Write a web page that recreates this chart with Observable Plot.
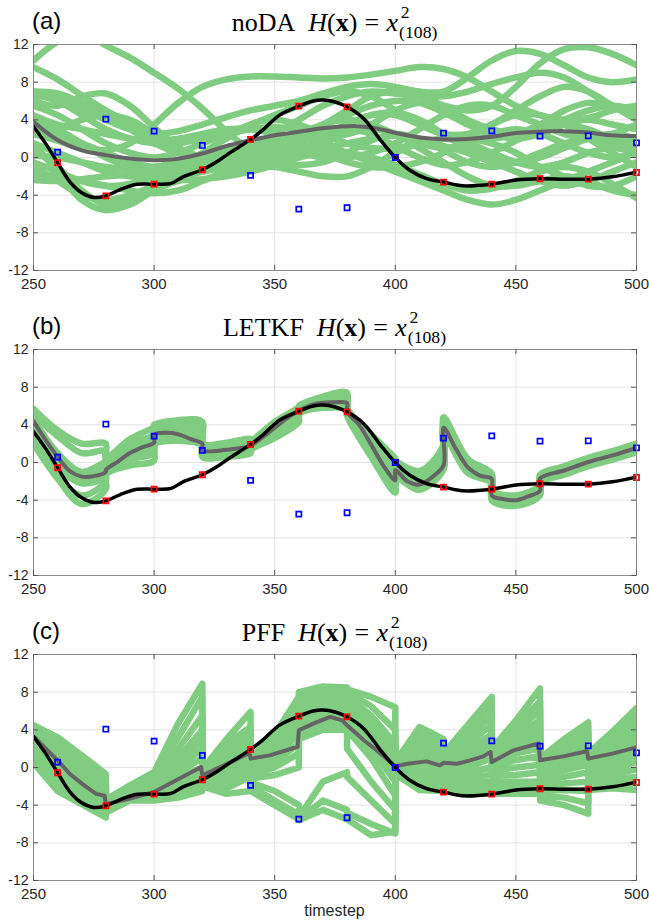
<!DOCTYPE html>
<html><head><meta charset="utf-8">
<script src="https://cdn.jsdelivr.net/npm/d3@7"></script>
<script src="https://cdn.jsdelivr.net/npm/@observablehq/plot@0.6"></script>
<style>
body{margin:0;background:#fff;}
#wrap{position:relative;width:649px;height:923px;overflow:hidden;background:#fff;}
.panel{position:absolute;left:0;}
.lab{position:absolute;font-family:"Liberation Sans",Arial,sans-serif;font-size:24px;line-height:1;color:#000;}
.ttl{position:absolute;font-family:"Liberation Serif","Times New Roman",serif;font-size:26px;line-height:1;color:#000;white-space:nowrap;transform:translateX(-50%);}
.eq{margin:0 0.28em;}
.ss{position:relative;display:inline-block;margin-left:0.04em;}
.sup{position:absolute;left:0.1em;top:-0.34em;font-size:0.68em;}
.sub{position:relative;top:0.42em;font-size:0.68em;}
.xl{position:absolute;font-family:"Liberation Sans",Arial,sans-serif;font-size:16px;line-height:1;color:#262626;transform:translateX(-50%);}
</style></head>
<body><div id="wrap"></div>
<script>
// ---------------- data ----------------
const xTicks = [250, 300, 350, 400, 450, 500];
const yTicks = [-12, -8, -4, 0, 4, 8, 12];
const obsTimes = [260, 280, 300, 320, 340, 360, 380, 400, 420, 440, 460, 480, 500];
const truthAtObs = [-0.56, -4.07, -2.83, -1.3, 1.92, 5.45, 5.38, 0.0, -2.61, -2.83, -2.26, -2.3, -1.59];
const observations = [0.57, 4.07, 2.8, 1.28, -1.9, -5.48, -5.34, 0.0, 2.59, 2.83, 2.27, 2.3, 1.56];

const truthT = [250,255,260,265,270,275,280,286,293,300,307,312,320,326,332,340,345,352,360,366,370,375,380,387,394,400,406,413,420,428,440,450,460,470,480,490,500];
const truthV = [3.3,1.5,-0.55,-2.55,-3.75,-4.25,-4.07,-3.4,-2.85,-2.83,-2.75,-2.05,-1.3,-0.45,0.6,1.92,2.9,4.5,5.45,6.0,6.1,5.9,5.38,4.1,1.8,0.0,-1.35,-2.25,-2.61,-3.0,-2.83,-2.4,-2.26,-2.3,-2.3,-2.05,-1.55];

// ensemble means
const meanAT = [250,260,270,280,290,300,308,320,331,340,350,360,370,384,392,400,410,424,440,450,460,470,480,490,500];
const meanAV = [3.8,1.85,0.75,0.25,-0.1,-0.28,-0.2,0.43,1.3,1.84,2.37,2.73,3.1,3.33,3.1,2.62,2.13,1.92,2.2,2.6,2.73,2.8,2.65,2.35,2.27];
const meanBT = [250,255,260,265,270,275,280,280,285,290,295,300,300,305,310,315,320,320,330,340,345,350,355,360,365,370,375,380,380,385,390,395,400,400,405,410,415,420,420,425,430,435,440,440,445,450,455,460,460,470,480,490,500];
const meanBV = [4.4,2.4,0.6,-0.9,-1.5,-1.45,-1.0,-0.8,0.1,1.0,1.6,2.1,2.95,3.15,3.0,2.5,2.0,1.3,1.35,1.8,2.7,3.7,4.7,5.5,6.1,6.35,6.4,6.3,5.4,4.0,1.9,-0.3,-1.9,-0.8,-2.0,-2.35,-1.6,-0.3,3.7,1.5,-0.5,-1.4,-1.75,-3.5,-3.9,-4.0,-3.6,-3.0,-1.7,-0.85,0.05,0.75,1.55];
const meanCT = [250,260,265,271,276,279.5,280,290,300,309,319.5,320,329,339.5,340,348,359.5,360,366,373,378,380,387,394,400,405,413,418.5,420,425.5,431,436.5,439.5,440,449,459.5,460,469.6,479.5,480,490,499.5,500];
const meanCV = [3.3,0.76,-0.66,-1.9,-2.8,-3.0,-3.9,-3.3,-2.6,-1.37,0.05,-0.84,0.23,1.54,0.94,1.29,2.2,3.95,4.66,5.37,5.0,4.48,2.9,1.47,0.12,0.4,0.65,0.23,0.5,0.4,0.76,1.18,1.64,0.58,1.82,2.55,0.76,1.18,1.72,0.94,1.47,2.11,1.5];

// (a) noDA ensemble members, values at gridA
const gridA = [250,260,270,280,290,300,310,320,330,340,350,360,370,380,390,400,410,420,430,440,450,460,470,480,490,500];
const ensA = [
 [10.3,12.3,13.3,11.9,10.6,9.0,7.3,5.2,2.8,0.8,-0.3,-0.8,-0.5,0.5,1.8,2.5,2.0,0.8,-0.5,-1.0,-0.5,0.5,1.5,2.0,1.5,0.8],
 [9.6,8.3,6.6,5.0,3.6,2.3,1.0,0.0,-0.5,-0.3,0.5,1.5,2.5,3.0,2.5,1.2,0.0,-0.8,-0.5,0.5,1.8,3.0,3.5,3.0,2.0,1.5],
 [2.5,1.8,1.0,0.8,1.5,3.5,5.8,7.5,8.3,8.6,8.6,8.5,8.4,8.5,8.8,9.2,9.6,9.4,8.5,7.0,5.5,4.5,4.0,4.2,5.0,5.5],
 [6.0,5.5,6.5,6.8,5.5,3.2,1.0,-0.5,-1.0,-0.5,0.5,2.0,3.5,4.5,5.5,6.0,5.8,4.8,3.5,2.5,2.0,2.5,3.5,4.0,3.5,3.0],
 [7.0,6.5,5.2,4.0,3.0,2.5,2.8,3.5,4.3,5.0,5.5,6.0,6.8,7.5,7.8,7.5,7.0,7.0,8.5,10.3,11.3,11.0,9.8,8.5,8.0,8.3],
 [6.6,6.0,4.5,3.0,2.0,1.5,1.5,2.0,2.5,3.0,3.2,3.0,2.5,2.5,3.5,5.0,5.8,5.5,5.0,5.5,7.5,10.0,11.5,11.7,11.0,9.8],
 [5.5,4.5,3.0,1.5,0.5,0.0,0.5,1.5,2.5,3.5,4.5,5.5,6.5,7.0,6.5,5.0,3.5,2.5,2.5,3.5,5.0,6.5,7.5,7.0,5.5,4.0],
 [1.5,-1.5,-4.5,-5.6,-5.0,-3.5,-2.5,-2.3,-2.0,-1.5,-0.8,0.0,0.5,0.5,0.0,-0.8,-1.8,-2.8,-3.5,-3.3,-2.5,-1.5,-1.0,-1.5,-2.8,-4.3],
 [0.8,-1.0,-3.5,-5.0,-4.5,-3.0,-1.5,-0.5,0.2,0.5,1.0,1.5,2.5,3.5,4.5,4.8,4.0,2.5,1.0,0.0,-0.5,0.0,1.0,2.0,2.5,2.0],
 [-2.4,-2.5,-2.3,-2.0,-1.8,-1.5,-1.2,-1.0,-0.5,0.0,0.5,0.8,1.0,1.5,2.0,2.3,2.0,1.2,0.5,-0.5,-1.5,-2.5,-3.0,-2.5,-1.5,-0.5],
 [-1.7,-2.0,-2.5,-3.0,-3.5,-3.8,-3.5,-2.5,-1.5,-1.0,-1.0,-1.5,-2.0,-2.0,-1.0,0.5,1.5,2.0,1.5,0.5,-0.5,-1.0,-0.5,0.5,1.0,0.5],
 [3.5,2.5,1.5,0.5,-0.5,-1.0,-0.8,0.0,0.8,1.5,2.0,2.0,1.5,0.5,-0.5,-1.5,-2.5,-3.5,-4.5,-5.0,-4.5,-3.5,-2.5,-1.5,-0.5,0.5],
 [4.5,3.5,3.0,2.5,2.0,1.8,2.0,2.5,3.0,3.0,2.5,1.5,0.5,-0.5,-1.0,-1.0,-0.5,0.5,2.0,3.5,4.5,4.5,3.5,2.0,0.5,-1.0],
 [0.2,0.0,-0.5,-1.0,-1.2,-1.0,-0.5,0.0,0.5,1.0,1.0,0.5,0.0,0.0,0.5,1.5,3.0,4.5,5.5,5.5,4.5,3.5,2.5,2.0,2.5,3.5],
 [-1.0,-2.5,-4.0,-4.5,-4.0,-3.0,-2.0,-1.5,-1.0,-0.5,0.0,0.5,1.5,2.5,3.0,2.5,1.0,-0.5,-2.0,-3.0,-3.0,-2.5,-2.0,-2.5,-3.5,-4.0],
 [1.5,0.5,-0.5,-1.5,-2.0,-2.2,-2.0,-1.5,-0.5,0.5,1.5,2.5,3.5,4.0,3.5,2.5,1.5,1.0,1.5,2.5,3.0,2.5,1.5,0.5,0.0,0.5],
 [2.5,3.0,4.0,4.5,4.0,2.5,1.0,0.0,-0.5,-0.8,-0.5,0.5,2.0,3.5,4.5,4.5,3.5,2.5,2.0,2.0,2.5,3.5,5.0,5.8,5.5,5.0],
 [-0.5,-1.5,-2.5,-3.0,-2.8,-2.0,-1.0,0.0,1.0,1.5,2.0,2.5,3.5,5.0,6.5,7.0,6.5,5.5,4.0,3.0,2.5,3.0,4.0,5.0,5.5,5.0],
 [4.0,3.0,1.5,0.0,-1.0,-1.5,-1.0,0.5,2.0,3.5,4.0,3.5,2.5,1.5,1.0,1.0,1.5,2.0,2.0,1.5,0.5,-1.0,-2.0,-3.0,-3.0,-2.0],
 [7.0,6.8,5.8,4.5,3.0,1.5,0.5,0.0,0.2,1.0,2.5,4.0,5.5,6.5,7.0,6.8,6.5,6.5,7.0,7.8,8.5,9.0,8.5,7.0,5.5,4.5]
];

// (b) LETKF ensemble members (repeated times = before/after analysis)
const gridB = [250,260,270,280,280,290,300,300,310,320,320,330,340,340,350,360,360,370,380,380,390,400,400,410,420,420,430,440,440,450,460,460,470,480,490,500];
const ensB = [
 [5.7,3.4,2.0,2.0,0.5,2.5,3.8,4.0,4.5,4.3,2.0,2.1,2.5,2.3,4.3,5.9,6.0,7.0,7.4,5.8,3.0,0.4,0.3,-0.9,1.9,4.8,0.4,-1.2,-2.9,-3.5,-2.4,-1.3,-0.4,0.5,1.2,2.0],
 [5.0,2.8,1.0,1.2,0.0,1.9,3.0,3.6,4.0,3.6,1.7,1.8,2.2,2.1,4.0,5.6,5.8,6.8,7.1,5.6,2.6,-0.5,-0.2,-1.5,1.2,4.4,0.1,-1.4,-3.1,-3.7,-2.6,-1.5,-0.6,0.3,1.0,1.8],
 [4.6,1.0,-1.0,0.0,-0.3,1.5,2.5,3.3,3.5,2.9,1.5,1.6,2.0,1.9,3.7,5.4,5.6,6.6,6.8,5.5,2.2,-1.2,-0.5,-1.9,0.6,4.0,-0.2,-1.6,-3.3,-3.9,-2.8,-1.6,-0.7,0.2,0.9,1.7],
 [4.4,0.5,-1.5,-0.5,-0.6,1.2,2.2,3.0,3.1,2.3,1.3,1.4,1.8,1.85,3.5,5.3,5.55,6.4,6.5,5.4,2.0,-1.8,-0.8,-2.2,0.1,3.8,-0.4,-1.7,-3.4,-4.0,-2.9,-1.7,-0.8,0.1,0.8,1.6],
 [4.0,0.0,-2.0,-1.0,-0.8,1.0,2.0,2.9,2.9,2.0,1.2,1.3,1.7,1.8,3.4,5.2,5.5,6.3,6.2,5.35,1.8,-2.0,-0.9,-2.35,-0.2,3.6,-0.5,-1.8,-3.5,-4.1,-3.0,-1.8,-0.9,0.0,0.7,1.5],
 [3.5,-0.5,-2.2,-1.5,-1.0,0.7,1.6,2.6,2.6,1.9,1.0,1.1,1.5,1.7,3.2,5.0,5.4,6.2,6.0,5.3,1.4,-2.4,-1.1,-2.5,-0.4,3.4,-0.7,-1.9,-3.6,-4.2,-3.1,-1.9,-1.0,-0.1,0.6,1.4],
 [2.5,-1.5,-3.5,-2.0,-1.1,0.3,1.0,2.3,2.4,1.8,0.8,0.9,1.3,1.5,2.9,4.7,5.3,6.0,5.8,5.2,1.0,-2.8,-1.3,-2.7,-0.6,3.2,-0.9,-2.0,-3.8,-4.4,-3.3,-2.0,-1.1,-0.2,0.5,1.3],
 [2.0,-1.7,-4.4,-2.8,-1.3,-0.3,0.2,1.9,2.3,1.8,0.6,0.6,1.0,1.3,2.6,4.3,5.1,5.8,5.6,5.0,0.6,-3.2,-1.6,-2.9,-0.7,3.0,-1.1,-2.2,-4.0,-4.6,-3.5,-2.2,-1.3,-0.4,0.3,1.1]
];

// (c) PFF ensemble: one column of particle values per time in gridC
const gridC = [250,260,270,280,280,290,300,310,320,320,330,340,340,350,360,360,370,380,380,390,400,400,410,420,420,430,440,440,450,460,460,470,480,480,490,500];
const ensCcols = [
 [4.5,4.0,3.6,3.3,3.0,2.7,2.4,2.1,1.8,1.5,1.2,1.0,0.8,0.5],
 [3.2,2.8,2.4,2.0,1.6,1.2,0.8,0.4,0.0,-0.4,-0.8,-1.2,-1.7,-2.5],
 [1.3,0.8,0.3,-0.2,-0.6,-1.0,-1.4,-1.8,-2.2,-2.6,-3.0,-3.3,-3.6,-3.9],
 [-0.7,-1.2,-1.6,-2.0,-2.4,-2.8,-3.1,-3.4,-3.7,-4.0,-4.3,-4.6,-5.0,-5.3],
 [-3.4,-3.5,-3.6,-3.7,-3.8,-3.9,-4.0,-4.1,-4.2,-4.3,-4.4,-4.5,-4.7,-4.8],
 [-1.9,-2.1,-2.3,-2.5,-2.6,-2.7,-2.8,-2.9,-3.0,-3.1,-3.2,-3.3,-3.4,-3.5],
 [-0.5,-0.8,-1.1,-1.4,-1.7,-2.0,-2.2,-2.4,-2.6,-2.8,-3.0,-3.2,-3.4,-3.5],
 [4.7,3.2,2.0,1.0,0.5,0.0,-0.5,-1.0,-1.5,-2.0,-2.4,-2.7,-3.0,-3.2],
 [8.9,7.5,5.5,4.0,3.0,2.0,1.0,0.0,-0.5,-1.0,-1.5,-2.0,-2.3,-2.5],
 [-0.2,-0.4,-0.5,-0.6,-0.7,-0.8,-0.9,-1.0,-1.1,-1.2,-1.4,-1.6,-1.8,-2.0],
 [3.0,2.5,2.0,1.5,1.0,0.7,0.4,0.1,-0.2,-0.5,-1.0,-1.5,-2.2,-2.8],
 [5.9,4.3,3.5,2.8,2.3,2.0,1.6,1.3,1.0,0.7,0.3,-0.3,-1.0,-2.5],
 [1.0,0.9,0.8,0.6,0.5,0.3,0.1,-0.2,-0.5,-0.8,-1.2,-1.6,-2.0,-2.5],
 [3.5,3.2,2.9,2.6,2.3,2.0,1.6,1.2,0.6,0.0,-0.8,-2.5,-3.5,-4.0],
 [7.5,7.0,6.5,6.0,5.4,4.8,4.2,3.5,2.5,1.5,0.0,-4.0,-5.0,-5.5],
 [8.0,7.5,7.0,6.5,6.0,5.5,5.0,4.5,4.0,3.5,3.0,-5.3,-5.5,-5.6],
 [8.6,8.3,8.0,7.6,7.2,6.8,6.3,5.8,5.2,4.5,4.0,-1.5,-3.5,-4.5],
 [8.5,8.2,8.0,7.7,7.3,6.8,6.2,5.5,5.0,4.5,4.0,-0.5,-4.5,-5.5],
 [8.3,8.0,7.6,7.2,6.8,6.3,5.8,5.3,4.6,4.0,2.0,-1.0,-4.8,-5.5],
 [7.5,6.5,5.5,5.0,4.5,4.0,3.5,3.0,2.0,1.0,-1.5,-3.5,-6.0,-7.2],
 [6.4,4.0,2.5,1.5,0.8,0.3,0.0,-0.5,-1.5,-3.0,-4.5,-6.0,-7.0,-6.8],
 [0.6,0.5,0.4,0.3,0.2,0.1,0.0,-0.1,-0.2,-0.3,-0.4,-0.5,-0.6,-0.7],
 [4.3,3.5,3.0,2.5,2.0,1.5,1.0,0.5,0.0,-0.5,-1.0,-1.5,-2.0,-2.4],
 [3.0,2.6,2.2,2.0,1.6,1.2,0.8,0.4,0.0,-0.4,-1.0,-1.5,-2.0,-2.5],
 [1.5,1.2,1.0,0.8,0.6,0.5,0.4,0.2,0.0,-0.3,-0.7,-1.2,-1.8,-2.4],
 [4.5,3.8,3.2,2.6,2.0,1.5,1.0,0.5,0.0,-0.5,-1.0,-1.5,-2.0,-2.6],
 [7.5,6.5,5.5,4.5,3.5,3.0,2.5,2.0,1.0,0.0,-0.8,-1.5,-2.2,-2.8],
 [2.0,1.7,1.4,1.2,1.0,0.8,0.6,0.3,0.0,-0.4,-0.9,-1.5,-2.2,-2.8],
 [5.0,4.5,4.0,3.5,3.0,2.5,2.0,1.5,0.8,0.0,-0.8,-1.5,-2.2,-2.8],
 [8.4,7.0,6.0,5.0,4.2,3.5,2.8,2.0,1.2,0.3,-0.5,-1.5,-2.2,-2.8],
 [1.0,0.8,0.6,0.4,0.2,0.0,-0.2,-0.5,-1.0,-1.5,-2.0,-2.5,-3.0,-3.5],
 [3.0,2.6,2.2,1.8,1.4,1.0,0.6,0.2,-0.3,-1.0,-1.7,-2.4,-3.2,-4.0],
 [4.8,4.2,3.6,3.0,2.5,2.0,1.5,1.0,0.3,-0.5,-1.5,-2.5,-3.8,-4.9],
 [1.5,1.3,1.1,0.9,0.7,0.5,0.3,0.0,-0.4,-0.8,-1.2,-1.6,-2.0,-2.4],
 [3.8,3.3,2.8,2.4,2.0,1.6,1.2,0.8,0.3,-0.2,-0.7,-1.2,-1.7,-2.2],
 [6.3,5.5,4.8,4.2,3.6,3.0,2.5,2.0,1.3,0.6,-0.2,-1.0,-1.7,-2.4]
];

const panelLabels = ["(a)", "(b)", "(c)"];
const methodNames = ["noDA", "LETKF", "PFF"];

// ---------------- reshape ----------------
const pairs = (T, V) => T.map((t, i) => ({t, v: V[i]}));
const rowsFromMembers = (grid, members) => members.flatMap((vals, m) => vals.map((v, i) => ({t: grid[i], v, m})));
const rowsFromColumns = (grid, cols) => cols.flatMap((col, i) => col.map((v, m) => ({t: grid[i], v, m}))).sort((a, b) => a.m - b.m);
const truth = pairs(truthT, truthV);
const redPts = pairs(obsTimes, truthAtObs);
const bluePts = pairs(obsTimes, observations);

const GREEN = "#80cc80", GRAY = "#646464";
const W = 649, ML = 33, MR = 13, MT = 44;

function panel(ens, ensCurve, mean, meanCurve, height, mb) {
  const plotW = W - ML - MR, plotH = height - MT - mb;
  return Plot.plot({
    width: W, height, marginTop: MT, marginBottom: mb, marginLeft: ML, marginRight: MR,
    x: {domain: [250, 500], axis: null},
    y: {domain: [-12, 12], axis: null},
    style: {background: "transparent", fontFamily: "'Liberation Sans', Arial, sans-serif", fontSize: "14px", color: "#262626"},
    marks: [
      Plot.gridY(yTicks, {stroke: "#e3e3e3", strokeOpacity: 1}),
      Plot.gridX(xTicks, {stroke: "#e3e3e3", strokeOpacity: 1}),
      Plot.line(ens, {x: "t", y: "v", z: "m", stroke: GREEN, strokeWidth: 6.5, curve: ensCurve, clip: true}),
      Plot.line(mean, {x: "t", y: "v", stroke: GRAY, strokeWidth: 4, curve: meanCurve, clip: true}),
      Plot.line(truth, {x: "t", y: "v", stroke: "#000", strokeWidth: 3.5, curve: "catmull-rom", clip: true}),
      Plot.dot(redPts, {x: "t", y: "v", symbol: "square", r: 2.9, stroke: "#ff0000", strokeWidth: 1.7, fill: "none"}),
      Plot.dot(bluePts, {x: "t", y: "v", symbol: "square", r: 2.9, stroke: "#0000ff", strokeWidth: 1.7, fill: "none"}),
      Plot.frame({stroke: "#8a8a8a", strokeWidth: 1}),
      Plot.ruleY(yTicks, {y: d => d, stroke: "#555", insetRight: plotW - 5}),
      Plot.ruleY(yTicks, {y: d => d, stroke: "#555", insetLeft: plotW - 5}),
      Plot.ruleX(xTicks, {x: d => d, stroke: "#555", insetTop: plotH - 5}),
      Plot.ruleX(xTicks, {x: d => d, stroke: "#555", insetBottom: plotH - 5}),
      Plot.axisY(yTicks, {anchor: "left", tickSize: 0, tickPadding: 5, tickFormat: d => String(d), label: null, fontSize: 14, fill: "#262626"}),
      Plot.axisX(xTicks, {anchor: "bottom", tickSize: 0, tickPadding: 8, tickFormat: d => String(d), label: null, fontSize: 15, fill: "#262626"})
    ]
  });
}

const wrap = document.getElementById("wrap");
const specs = [
  {top: 0, height: 305, mb: 35, ens: rowsFromMembers(gridA, ensA), ec: "catmull-rom", mean: pairs(meanAT, meanAV), mc: "catmull-rom"},
  {top: 305, height: 305, mb: 35, ens: rowsFromMembers(gridB, ensB), ec: "catmull-rom", mean: pairs(meanBT, meanBV), mc: "catmull-rom"},
  {top: 610, height: 313, mb: 43, ens: rowsFromColumns(gridC, ensCcols), ec: "linear", mean: pairs(meanCT, meanCV), mc: "linear"}
];
specs.forEach((s, i) => {
  const div = document.createElement("div");
  div.className = "panel";
  div.style.top = s.top + "px";
  div.appendChild(panel(s.ens, s.ec, s.mean, s.mc, s.height, s.mb));
  wrap.appendChild(div);
  const lab = document.createElement("div");
  lab.className = "lab";
  lab.style.left = "32px";
  lab.style.top = (s.top + 9) + "px";
  lab.textContent = panelLabels[i];
  wrap.appendChild(lab);
  const ttl = document.createElement("div");
  ttl.className = "ttl";
  ttl.style.left = (ML + (W - ML - MR) / 2) + "px";
  ttl.style.top = (s.top + 10) + "px";
  ttl.innerHTML = methodNames[i] + "&nbsp; <i>H</i>(<b>x</b>)<span class=\"eq\">=</span><i>x</i><span class=\"ss\"><span class=\"sup\">2</span><span class=\"sub\">(108)</span></span>";
  wrap.appendChild(ttl);
});
const xl = document.createElement("div");
xl.className = "xl";
xl.style.left = (ML + (W - ML - MR) / 2) + "px";
xl.style.top = "903px";
xl.textContent = "timestep";
wrap.appendChild(xl);
</script>
</body></html>
